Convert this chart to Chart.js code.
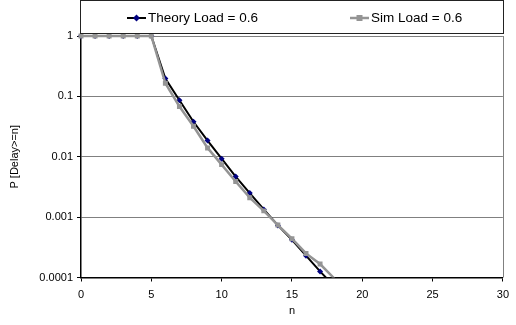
<!DOCTYPE html>
<html>
<head>
<meta charset="utf-8">
<script src="https://cdn.jsdelivr.net/npm/chart.js@4.4.0/dist/chart.umd.min.js"></script>
<style>
  html, body { margin: 0; padding: 0; background: #fff; }
  #wrap { width: 516px; height: 325px; }
</style>
</head>
<body>
<div id="wrap"><canvas id="chart" width="516" height="325"></canvas></div>
<script>
const nValues = [0, 1, 2, 3, 4, 5, 6, 7, 8, 9, 10, 11, 12, 13, 14, 15, 16, 17, 18];
const theoryValues = [1, 1, 1, 1, 1, 1, 0.197, 0.086, 0.038, 0.0185, 0.0093, 0.0047, 0.0025, 0.00134, 0.00073, 0.00042, 0.00023, 0.000126, 0.000072];
const simValues = [1, 1, 1, 1, 1, 1, 0.165, 0.068, 0.032, 0.014, 0.0074, 0.0039, 0.0021, 0.00127, 0.00074, 0.00044, 0.00025, 0.000167, 0.000097];
const yTicks = [0.0001, 0.001, 0.01, 0.1, 1];
const xTicks = [0, 5, 10, 15, 20, 25, 30];
const legendLabels = ['Theory Load = 0.6', 'Sim Load = 0.6'];

const FONT = 'Liberation Sans, Arial, sans-serif';

function toPoints(values) {
    return nValues.map((n, i) => ({ x: n, y: values[i] }));
}

// hide markers that fall below the axis
function radii(values, r) {
    return values.map(v => v < yTicks[0] ? 0 : r);
}

const frame = {
    id: 'frame',
    beforeDatasetsDraw(chart) {
        const { ctx, chartArea: a } = chart;
        ctx.save();
        ctx.strokeStyle = '#808080';
        ctx.lineWidth = 1;
        ctx.beginPath();
        ctx.moveTo(Math.round(a.right) + 0.5, a.top);
        ctx.lineTo(Math.round(a.right) + 0.5, a.bottom);
        ctx.stroke();
        ctx.restore();
    },
    afterDraw(chart) {
        const { ctx, chartArea: a } = chart;
        ctx.save();
        // legend box
        ctx.fillStyle = '#fff';
        ctx.strokeStyle = '#222';
        ctx.lineWidth = 1;
        ctx.fillRect(80.5, 0.5, Math.round(a.right) - 80, 33);
        ctx.strokeRect(80.5, 0.5, Math.round(a.right) - 80, 33);

        ctx.font = '13.5px ' + FONT;
        ctx.textBaseline = 'middle';
        ctx.fillStyle = '#000';
        const y = 18;
        const items = [
            { x: 127, ds: chart.data.datasets[0], label: legendLabels[0] },
            { x: 350, ds: chart.data.datasets[1], label: legendLabels[1] }
        ];
        items.forEach(it => {
            ctx.strokeStyle = it.ds.borderColor;
            ctx.lineWidth = it.ds.borderWidth;
            ctx.beginPath();
            ctx.moveTo(it.x, y);
            ctx.lineTo(it.x + 19, y);
            ctx.stroke();
            ctx.fillStyle = it.ds.pointBackgroundColor;
            ctx.beginPath();
            if (it.ds.pointStyle === 'rect') {
                ctx.rect(it.x + 6.5, y - 3, 6, 6);
            } else {
                ctx.moveTo(it.x + 9.5, y - 3.5);
                ctx.lineTo(it.x + 13, y);
                ctx.lineTo(it.x + 9.5, y + 3.5);
                ctx.lineTo(it.x + 6, y);
                ctx.closePath();
            }
            ctx.fill();
            ctx.fillStyle = '#000';
            ctx.fillText(it.label, it.x + 21, y);
        });
        ctx.restore();
    }
};

new Chart(document.getElementById('chart'), {
    type: 'line',
    data: {
        datasets: [{
            label: legendLabels[0],
            data: toPoints(theoryValues),
            borderColor: '#000000',
            borderWidth: 2,
            pointStyle: 'rectRot',
            pointRadius: radii(theoryValues, 3),
            pointBackgroundColor: '#000080',
            pointBorderColor: '#000080',
            pointBorderWidth: 0,
            order: 1,
            clip: { left: 6, top: 6, right: 0, bottom: 0 }
        }, {
            label: legendLabels[1],
            data: toPoints(simValues),
            borderColor: '#949494',
            borderWidth: 2.5,
            pointStyle: 'rect',
            pointRadius: radii(simValues, 3.5),
            pointBackgroundColor: '#949494',
            pointBorderColor: '#949494',
            pointBorderWidth: 0,
            order: 0,
            clip: { left: 6, top: 6, right: 0, bottom: 0 }
        }]
    },
    options: {
        responsive: false,
        animation: false,
        layout: { padding: { top: 36, right: 7, left: 0, bottom: 0 } },
        plugins: {
            legend: { display: false },
            tooltip: { enabled: false }
        },
        scales: {
            x: {
                type: 'linear',
                min: 0,
                max: 30,
                afterBuildTicks(scale) {
                    scale.ticks = xTicks.map(v => ({ value: v }));
                },
                afterFit(scale) { scale.height = 47.5; },
                grid: { drawOnChartArea: false, tickLength: 4, tickColor: '#000' },
                border: { color: '#000', width: 1.5 },
                ticks: { color: '#000', font: { family: FONT, size: 11 }, padding: 7, maxRotation: 0 },
                title: { display: true, text: 'n', color: '#000', font: { family: FONT, size: 11 }, padding: { top: 0, bottom: 7 } }
            },
            y: {
                type: 'logarithmic',
                min: 0.0001,
                max: 1,
                afterBuildTicks(scale) {
                    scale.ticks = yTicks.map(v => ({ value: v }));
                },
                afterFit(scale) { scale.width = 81; },
                grid: { color: '#808080', lineWidth: 1, tickLength: 4, tickColor: '#000' },
                border: { color: '#000', width: 1.5 },
                ticks: {
                    color: '#000',
                    font: { family: FONT, size: 11 },
                    padding: 4,
                    callback: v => String(v)
                },
                title: { display: true, text: 'P [Delay>=n]', color: '#000', font: { family: FONT, size: 11 }, padding: { top: 8, bottom: 0 } }
            }
        }
    },
    plugins: [frame]
});
</script>
</body>
</html>
